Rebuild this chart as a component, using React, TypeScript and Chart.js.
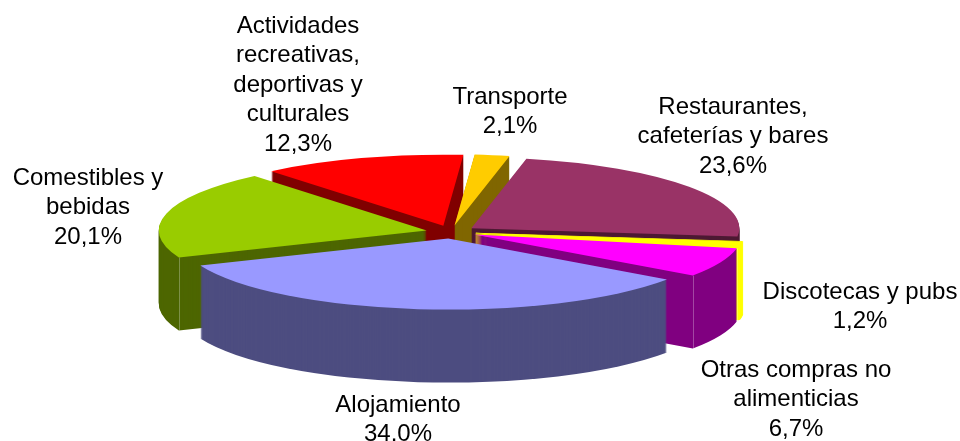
import React, { useEffect, useRef } from "react";
import { Chart, registerables } from "chart.js";

Chart.register(...registerables);

const categories = [
  ["Transporte"],
  ["Restaurantes,", "cafeterías y bares"],
  ["Discotecas y pubs"],
  ["Otras compras no", "alimenticias"],
  ["Alojamiento"],
  ["Comestibles y", "bebidas"],
  ["Actividades", "recreativas,", "deportivas y", "culturales"],
];
const values = [2.1, 23.6, 1.2, 6.7, 34.0, 20.1, 12.3];
const valueLabels = ["2,1%", "23,6%", "1,2%", "6,7%", "34.0%", "20,1%", "12,3%"];
const faceColors = ["#FFCC00", "#993366", "#FFFF00", "#FF00FF", "#9999FF", "#99CC00", "#FF0000"];
const wallColors = ["#806600", "#4D1933", "#FFFF00", "#800080", "#4D4D80", "#4D6600", "#800000"];
const borderWidths = [0, 0, 3, 0, 0, 0, 0];
const drawOrder = [6, 0, 1, 5, 2, 3, 4];
const seamSlices = [3, 5];
const labelX = [510, 733, 860, 796, 398, 88, 298];
const labelY = [97, 107, 292, 370, 405, 178, 26];

const WIDTH = 960;
const HEIGHT = 441;
const ROTATION = 4.3;
const RADIUS = 268;
const TILT = 0.265;
const EXPLODE = 25;
const DEPTH = 73;
const CENTER_X = 451;
const CENTER_Y = 232;
const LINE_HEIGHT = 29.6;

const pie3d = {
  id: "pie3d",
  beforeDatasetDraw(chart: any) {
    const ctx = chart.ctx;
    const meta = chart.getDatasetMeta(0);
    for (const i of drawOrder) {
      const arc = meta.data[i];
      const mid = (arc.startAngle + arc.endAngle) / 2;
      const ox = Math.cos(mid) * EXPLODE;
      const oy = Math.sin(mid) * EXPLODE;
      const place = (drop: number) => {
        ctx.save();
        ctx.translate(CENTER_X, CENTER_Y + drop);
        ctx.scale(1, TILT);
        ctx.translate(ox - arc.x, oy - arc.y);
      };
      const saved = arc.options;
      arc.options = Object.create(saved, { backgroundColor: { value: wallColors[i] } });
      for (let d = DEPTH; d > 0; d--) {
        place(d);
        arc.draw(ctx);
        ctx.restore();
      }
      arc.options = saved;
      // Pale seam down the wall at the front corner where two walls meet
      if (seamSlices.includes(i)) {
        for (const a of [arc.startAngle, arc.endAngle]) {
          if (Math.sin(a) <= 0) continue;
          const sx = CENTER_X + ox + Math.cos(a) * arc.outerRadius;
          const sy = CENTER_Y + (oy + Math.sin(a) * arc.outerRadius) * TILT;
          ctx.save();
          ctx.strokeStyle = "rgba(255,255,255,0.28)";
          ctx.lineWidth = 1;
          ctx.beginPath();
          ctx.moveTo(Math.round(sx) + 0.5, sy);
          ctx.lineTo(Math.round(sx) + 0.5, sy + DEPTH);
          ctx.stroke();
          ctx.restore();
        }
      }
      place(0);
      arc.draw(ctx);
      ctx.restore();
    }
    return false;
  },
  afterDraw(chart: any) {
    const ctx = chart.ctx;
    ctx.save();
    ctx.fillStyle = "#000";
    ctx.font = '24px "Liberation Sans", Arial, sans-serif';
    ctx.textAlign = "center";
    ctx.textBaseline = "middle";
    categories.forEach((lines, i) => {
      [...lines, valueLabels[i]].forEach((line, j) => {
        ctx.fillText(line, labelX[i], labelY[i] + j * LINE_HEIGHT);
      });
    });
    ctx.restore();
  },
};

export default function App() {
  const ref = useRef<HTMLCanvasElement>(null);
  useEffect(() => {
    document.body.style.margin = "0";
    const chart = new Chart(ref.current as HTMLCanvasElement, {
      type: "pie",
      data: {
        labels: categories.map((c) => c.join(" ")),
        datasets: [
          {
            data: values,
            backgroundColor: faceColors,
            borderColor: faceColors,
            borderWidth: borderWidths,
            borderAlign: "center",
          },
        ],
      },
      options: {
        animation: false,
        responsive: false,
        rotation: ROTATION,
        radius: RADIUS,
        plugins: { legend: { display: false }, tooltip: { enabled: false } },
      },
      plugins: [pie3d],
    } as any);
    return () => chart.destroy();
  }, []);
  return (
    <canvas
      ref={ref}
      width={WIDTH}
      height={HEIGHT}
      style={{ display: "block", width: WIDTH, height: HEIGHT }}
    />
  );
}
